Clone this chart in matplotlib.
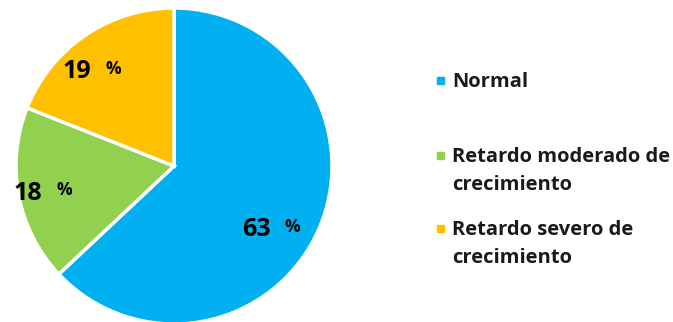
import matplotlib.pyplot as plt

labels = ['Normal', 'Retardo moderado de\ncrecimiento', 'Retardo severo de\ncrecimiento']
values = [63, 18, 19]
colors = ['#00B0F0', '#92D050', '#FFC000']

plt.rcParams['font.family'] = ['Open Sans', 'DejaVu Sans']

W, H = 673, 322
fig = plt.figure(figsize=(W / 100, H / 100), dpi=100)

# pie axes, center ~(174,166) px, radius ~158 px
cx, cy, r = 174, 166, 158
ax = fig.add_axes([(cx - r) / W, (H - cy - r) / H, 2 * r / W, 2 * r / H])
ax.pie(values, colors=colors, startangle=90, counterclock=False,
       wedgeprops=dict(edgecolor='white', linewidth=2.5))
ax.set_xlim(-1, 1)
ax.set_ylim(-1, 1)
ax.set_aspect('equal')

# value labels: number big, percent sign small
label_pos = [(0.52, -0.405), (-0.924, -0.171), (-0.614, 0.595)]
for v, (x, y) in zip(values, label_pos):
    ax.text(x, y, str(v), fontsize=18, fontweight='bold', ha='center', va='center')
    ax.annotate('%', xy=(x, y), xytext=(26, 2), textcoords='offset points',
                fontsize=12.5, fontweight='bold', ha='center', va='center')

# legend on the right
leg_y = [82, 157, 230]
for lab, c, y in zip(labels, colors, leg_y):
    fig.patches.append(plt.Rectangle((437 / W, (H - y - 2) / H), 7 / W, 7 / H,
                                     color=c, transform=fig.transFigure, figure=fig))
    for i, line in enumerate(lab.split('\n')):
        fig.text(452 / W, (H - y - 28 * i) / H, line, fontsize=14.5, fontweight='bold',
                 ha='left', va='center', color='#1a1a1a')

fig.savefig('out.png', dpi=100)
